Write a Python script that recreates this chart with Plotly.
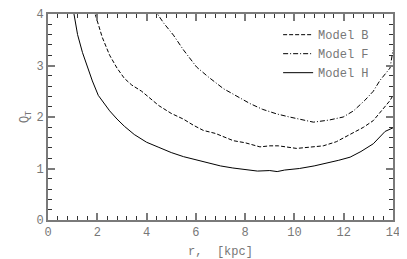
import plotly.graph_objects as go

# Model H (solid)
r_H = [1.0, 1.2, 1.4, 1.57, 1.8, 2.04, 2.2, 2.5, 2.8, 3.1, 3.5, 4.0, 4.5, 5.0, 5.5, 5.9, 6.5, 7.0,
       7.5, 8.0, 8.5, 9.0, 9.3, 9.6, 10.2, 10.8, 11.3, 11.8, 12.26, 12.7, 13.2, 13.68, 14.0]
Q_H = [4.15, 3.6, 3.25, 3.0, 2.7, 2.42, 2.32, 2.12, 1.96, 1.82, 1.66, 1.51, 1.41, 1.31, 1.23, 1.18, 1.1, 1.05,
       1.01, 0.98, 0.95, 0.96, 0.94, 0.97, 1.0, 1.05, 1.1, 1.16, 1.22, 1.33, 1.48, 1.72, 1.79]

# Model B (dashed)
r_B = [1.85, 2.2, 2.5, 2.8, 3.1, 3.4, 3.8, 4.14, 4.5, 5.0, 5.49, 5.9, 6.3, 6.8, 7.2, 7.52, 8.0, 8.6,
       9.0, 9.35, 10.09, 10.6, 11.17, 11.7, 12.26, 12.8, 13.2, 13.6, 13.88, 14.0]
Q_B = [4.1, 3.55, 3.2, 2.95, 2.75, 2.62, 2.5, 2.36, 2.22, 2.07, 1.96, 1.84, 1.74, 1.68, 1.6, 1.54, 1.5, 1.42,
       1.44, 1.44, 1.39, 1.41, 1.44, 1.52, 1.67, 1.8, 1.93, 2.15, 2.32, 2.42]

# Model F (dash-dot)
r_F = [4.3, 4.7, 5.09, 5.5, 6.03, 6.5, 7.12, 7.6, 8.2, 8.7, 9.28, 9.8, 10.3, 10.77, 11.4, 11.98, 12.4,
       12.85, 13.2, 13.47, 13.88, 14.0]
Q_F = [4.1, 3.82, 3.59, 3.3, 2.97, 2.78, 2.55, 2.42, 2.26, 2.15, 2.06, 2.0, 1.95, 1.9, 1.94, 2.0, 2.12,
       2.32, 2.5, 2.71, 2.95, 3.3]

x_ticks = [0, 2, 4, 6, 8, 10, 12, 14]
y_ticks = [0, 1, 2, 3, 4]

FONT = "Courier New, Liberation Mono, monospace"
AX = "#7a7a7a"
TXT = "#777777"

fig = go.Figure()
fig.add_trace(go.Scatter(x=r_B, y=Q_B, mode="lines", name="Model B",
                         line=dict(color="black", width=1, dash="4px,2px")))
fig.add_trace(go.Scatter(x=r_F, y=Q_F, mode="lines", name="Model F",
                         line=dict(color="black", width=1, dash="5px,2px,1px,2px")))
fig.add_trace(go.Scatter(x=r_H, y=Q_H, mode="lines", name="Model H",
                         line=dict(color="black", width=1)))

tick_common = dict(showgrid=False, zeroline=False, showline=True, linecolor=AX, linewidth=2,
                   ticks="inside", tickcolor=AX, tickwidth=2, ticklen=7, mirror="allticks")
xminor = dict(ticks="inside", dtick=0.4, tick0=0, ticklen=4, tickwidth=1, tickcolor="#333", showgrid=False)
yminor = dict(ticks="inside", dtick=0.2, tick0=0, ticklen=4, tickwidth=1, tickcolor="#333", showgrid=False)

# page is offset 8px by the browser's default body margin
fig.update_layout(
    template="none",
    width=399, height=251,
    margin=dict(l=40, r=14, t=6, b=39),
    paper_bgcolor="white", plot_bgcolor="white",
    showlegend=True,
    font=dict(family=FONT, size=12, color=TXT),
    xaxis=dict(range=[0, 14], tickvals=x_ticks, ticktext=[str(v) for v in x_ticks],
               minor=xminor, tickfont=dict(family=FONT, size=12, color=TXT),
               title=dict(text="r,  [kpc]", font=dict(family=FONT, size=12, color=TXT), standoff=11),
               **tick_common),
    yaxis=dict(range=[0, 4], tickvals=y_ticks, ticktext=[str(v) for v in y_ticks],
               minor=yminor, tickfont=dict(family=FONT, size=12, color=TXT),
               title=dict(text="Q<sub>T</sub>", font=dict(family=FONT, size=12, color=TXT), standoff=5),
               **tick_common),
    xaxis2=dict(range=[0, 14], overlaying="x", side="top", anchor="y", tickvals=x_ticks,
                showticklabels=False, minor=xminor, **tick_common),
    yaxis2=dict(range=[0, 4], overlaying="y", side="right", anchor="x", tickvals=y_ticks,
                showticklabels=False, minor=yminor, **tick_common),
    legend=dict(x=0.667, y=0.97, xanchor="left", yanchor="top", bgcolor="rgba(0,0,0,0)",
                font=dict(family=FONT, size=12, color=TXT), itemwidth=30, tracegroupgap=0),
)

fig.write_html("out.html")
